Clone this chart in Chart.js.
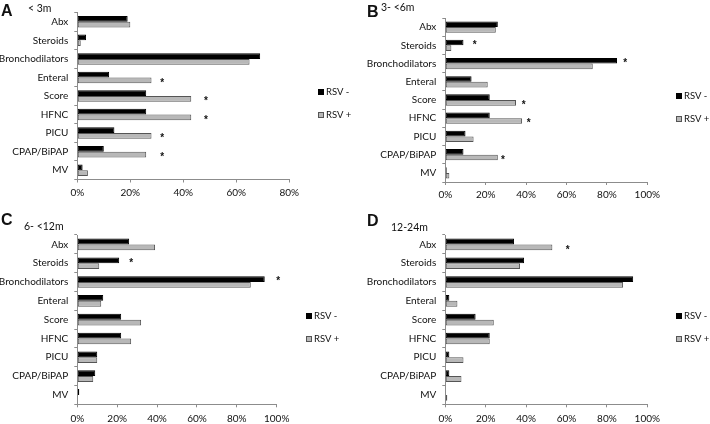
<!DOCTYPE html>
<html>
<head>
<meta charset="utf-8">
<script src="https://cdn.jsdelivr.net/npm/chart.js@4.4.0/dist/chart.umd.min.js"></script>
<style>
  body { margin: 0; background: #fff; }
  #wrap { position: relative; width: 710px; height: 424px; font-family: Lato, sans-serif; color: #111; }
  canvas { position: absolute; }
  .letter { position: absolute; font: bold 16px "Liberation Sans", Arial, sans-serif; line-height: 16px; }
  .sub { position: absolute; font-size: 10.5px; line-height: 10px; white-space: nowrap; }
</style>
</head>
<body>
<div id="wrap">
  <canvas id="chartA" width="355" height="212" style="left:0;top:0"></canvas>
  <canvas id="chartB" width="355" height="212" style="left:355px;top:0"></canvas>
  <canvas id="chartC" width="355" height="212" style="left:0;top:212px"></canvas>
  <canvas id="chartD" width="355" height="212" style="left:355px;top:212px"></canvas>
  <div class="letter" style="left:1px;top:3px">A</div>
  <div class="sub" style="left:28px;top:3px">&lt; 3m</div>
  <div class="letter" style="left:367px;top:4px">B</div>
  <div class="sub" style="left:381px;top:2px">3- &lt;6m</div>
  <div class="letter" style="left:1px;top:212px">C</div>
  <div class="sub" style="left:24px;top:221px">6- &lt;12m</div>
  <div class="letter" style="left:367px;top:213px">D</div>
  <div class="sub" style="left:391px;top:222px">12-24m</div>
</div>
<script>
// categories shared by all four panels
const categories = ['Abx', 'Steroids', 'Bronchodilators', 'Enteral', 'Score', 'HFNC', 'PICU', 'CPAP/BiPAP', 'MV'];
const seriesNames = ['RSV -', 'RSV +'];

// A: < 3m
const negA = [19, 3.3, 69, 12, 26, 26, 14, 10, 2];
const posA = [20, 1.3, 65, 28, 43, 43, 28, 26, 4];
const starA = [null, null, null, 32, 48.5, 48.5, 32, 32, null];

// B: 3- <6m
const negB = [26, 9, 85, 13, 22, 22, 10, 9, 0.7];
const posB = [25, 3, 73, 21, 35, 38, 14, 26, 2];
const starB = [null, 14.5, 89, null, 38.8, 41.3, null, 28.5, null];

// C: 6- <12m
const negC = [26, 21, 94, 13, 22, 22, 10, 9, 1];
const posC = [39, 11, 87, 12, 32, 27, 10, 8, 0];
const starC = [null, 27, 100.8, null, null, null, null, null, null];

// D: 12-24m
const negD = [34, 39, 93, 2, 15, 22, 2, 2, 0];
const posD = [53, 37, 88, 6, 24, 22, 9, 8, 1];
const starD = [60.6, null, null, null, null, null, null, null, null];

const xTicksA = [0, 20, 40, 60, 80];
const xTicksBCD = [0, 20, 40, 60, 80, 100];

const textColor = '#111';
const axisColor = '#8c8c8c';

// asterisks next to the longer bar of a category
const starPlugin = {
  id: 'stars',
  afterDatasetsDraw(chart, args, opts) {
    const ctx = chart.ctx;
    const x = chart.scales.x;
    opts.marks.forEach((v, i) => {
      if (v === null) return;
      const d0 = chart.data.datasets[0].data[i];
      const d1 = chart.data.datasets[1].data[i];
      const bar = chart.getDatasetMeta(d0 >= d1 ? 0 : 1).data[i];
      ctx.save();
      ctx.fillStyle = textColor;
      ctx.font = 'bold 10px "Liberation Sans", Arial, sans-serif';
      ctx.textAlign = 'center';
      ctx.textBaseline = 'middle';
      ctx.fillText('*', x.getPixelForValue(v), bar.y + 2.5);
      ctx.restore();
    });
  }
};

// small legend to the right of the plot
const sideLegend = {
  id: 'sideLegend',
  afterDraw(chart) {
    const ctx = chart.ctx;
    const area = chart.chartArea;
    const mid = (area.top + area.bottom) / 2;
    const bx = Math.round(area.right + 29);
    chart.data.datasets.forEach((ds, i) => {
      const cy = Math.round(mid + (i === 0 ? -4 : 19));
      ctx.save();
      ctx.fillStyle = ds.backgroundColor;
      ctx.fillRect(bx, cy - 3, 6, 6);
      ctx.strokeStyle = ds.borderColor;
      ctx.lineWidth = 1;
      ctx.strokeRect(bx + 0.5, cy - 2.5, 5, 5);
      ctx.fillStyle = textColor;
      ctx.font = '9.5px Lato, sans-serif';
      ctx.textAlign = 'left';
      ctx.textBaseline = 'middle';
      ctx.fillText(ds.label, bx + 8, cy);
      ctx.restore();
    });
  }
};

function makePanel(id, neg, pos, stars, xTicks, box) {
  const xMax = xTicks[xTicks.length - 1];
  return new Chart(document.getElementById(id), {
    type: 'bar',
    data: {
      labels: categories,
      datasets: [
        { label: seriesNames[0], data: neg, backgroundColor: '#000', borderColor: '#000',
          borderWidth: 1, borderSkipped: false, categoryPercentage: 0.62, barPercentage: 1 },
        { label: seriesNames[1], data: pos, backgroundColor: '#b8b8b8', borderColor: '#555',
          borderWidth: 1, borderSkipped: false, categoryPercentage: 0.62, barPercentage: 1 }
      ]
    },
    options: {
      indexAxis: 'y',
      responsive: false,
      animation: false,
      layout: { padding: { top: box.top, right: 355 - box.right, left: 0, bottom: 0 } },
      plugins: {
        legend: { display: false },
        tooltip: { enabled: false },
        stars: { marks: stars }
      },
      scales: {
        x: {
          min: 0, max: xMax,
          afterBuildTicks(scale) { scale.ticks = xTicks.map(v => ({ value: v })); },
          afterFit(scale) { scale.height = 212 - box.bottom; },
          ticks: { color: textColor, font: { family: 'Lato', size: 10 }, padding: box.tickPad,
                   maxRotation: 0, callback: v => v + '%' },
          grid: { drawOnChartArea: false, drawTicks: true, tickLength: 3, color: axisColor },
          border: { display: true, color: axisColor }
        },
        y: {
          afterFit(scale) { scale.width = box.left; },
          ticks: { color: textColor, font: { family: 'Lato', size: 10 }, padding: 6, autoSkip: false },
          grid: { drawOnChartArea: false, drawTicks: true, tickLength: 3, color: axisColor },
          border: { display: true, color: axisColor }
        }
      }
    },
    plugins: [starPlugin, sideLegend]
  });
}

makePanel('chartA', negA, posA, starA, xTicksA, { left: 77.3, right: 289.3, top: 12.5, bottom: 179.5, tickPad: 4 });
makePanel('chartB', negB, posB, starB, xTicksBCD, { left: 90.3, right: 292.3, top: 18, bottom: 182, tickPad: 4 });
makePanel('chartC', negC, posC, starC, xTicksBCD, { left: 77.3, right: 276.7, top: 23, bottom: 192.3, tickPad: 5 });
makePanel('chartD', negD, posD, starD, xTicksBCD, { left: 90.3, right: 292.3, top: 23, bottom: 192.3, tickPad: 5 });
</script>
</body>
</html>
